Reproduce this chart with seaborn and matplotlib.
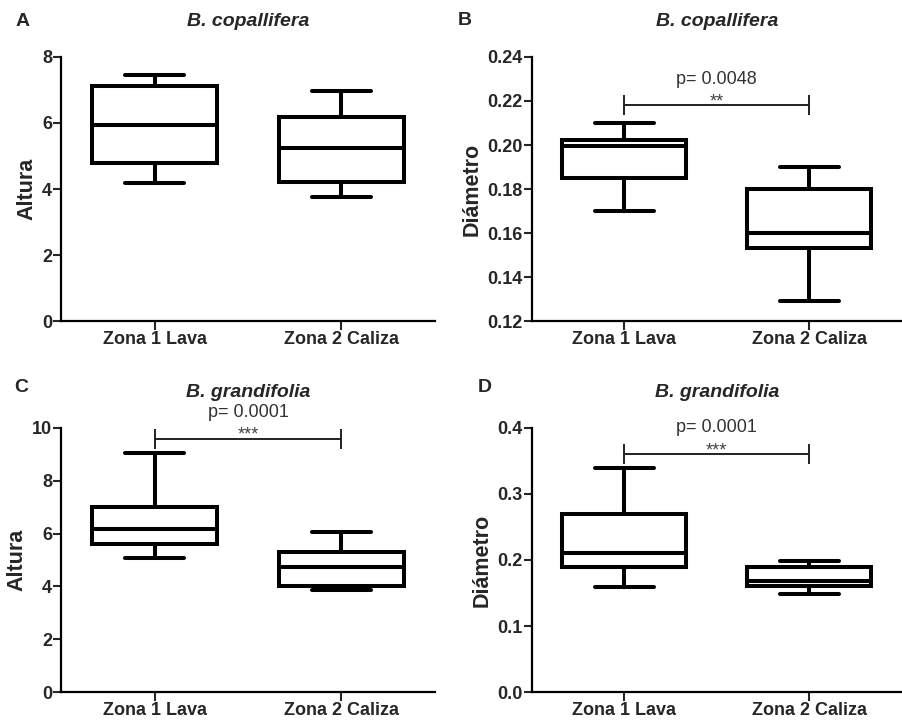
import numpy as np
import pandas as pd
import matplotlib.pyplot as plt
import seaborn as sns

zonas = ['Zona 1 Lava', 'Zona 2 Caliza']

# five-number summaries: min, Q1, median, Q3, max
cop_altura_z1 = [4.19, 4.80, 5.94, 7.13, 7.45]
cop_altura_z2 = [3.77, 4.22, 5.25, 6.19, 6.98]
cop_diam_z1 = [0.170, 0.185, 0.1995, 0.2022, 0.210]
cop_diam_z2 = [0.129, 0.153, 0.160, 0.180, 0.190]
gra_altura_z1 = [5.06, 5.62, 6.16, 7.00, 9.07]
gra_altura_z2 = [3.87, 4.00, 4.75, 5.29, 6.06]
gra_diam_z1 = [0.159, 0.190, 0.210, 0.270, 0.339]
gra_diam_z2 = [0.148, 0.160, 0.168, 0.189, 0.199]

titles = ['B. copallifera', 'B. copallifera', 'B. grandifolia', 'B. grandifolia']
ylabels = ['Altura', 'Diámetro', 'Altura', 'Diámetro']
letters = ['A', 'B', 'C', 'D']
p_texts = [None, 'p= 0.0048', 'p= 0.0001', 'p= 0.0001']
stars = [None, '**', '***', '***']
bracket_y = [None, 0.218, 9.6, 0.36]

sns.set_theme(style='ticks')
plt.rcParams['font.family'] = ['Liberation Sans', 'DejaVu Sans']
plt.rcParams['font.weight'] = 'bold'

fig = plt.figure(figsize=(9.03, 7.25), dpi=100)

rects = [[0.0676, 0.5572, 0.4141, 0.3642],
         [0.5888, 0.5572, 0.4101, 0.3642],
         [0.0676, 0.0455, 0.4141, 0.3642],
         [0.5888, 0.0455, 0.4101, 0.3642]]
letter_pos = [(0.025, 0.970), (0.515, 0.972), (0.024, 0.466), (0.537, 0.465)]
ylims = [(0, 8), (0.12, 0.24), (0, 10), (0, 0.4)]
yticks = [np.arange(0, 8.1, 2), np.arange(0.12, 0.241, 0.02),
          np.arange(0, 10.1, 2), np.arange(0, 0.41, 0.1)]
yfmt = ['{:.0f}', '{:.2f}', '{:.0f}', '{:.1f}']
data = [(cop_altura_z1, cop_altura_z2), (cop_diam_z1, cop_diam_z2),
        (gra_altura_z1, gra_altura_z2), (gra_diam_z1, gra_diam_z2)]

for i in range(4):
    z1, z2 = data[i]
    df = pd.DataFrame({'zona': [zonas[0]] * len(z1) + [zonas[1]] * len(z2),
                       'valor': z1 + z2})
    ax = fig.add_axes(rects[i])
    sns.boxplot(data=df, x='zona', y='valor', ax=ax, whis=(0, 100),
                width=0.67, color='white', linecolor='black', linewidth=2.9,
                showfliers=False, saturation=1, capwidths=0.32)
    ax.set_xlim(-0.5, 1.5)
    ax.set_ylim(*ylims[i])
    ax.set_yticks(yticks[i])
    ax.set_yticklabels([yfmt[i].format(t) for t in yticks[i]])
    ax.set_xlabel('')
    ax.set_ylabel(ylabels[i], fontsize=15.5, fontweight='bold', labelpad=3)
    ax.set_title(titles[i], fontsize=14, fontweight='bold', fontstyle='italic', pad=22)
    ax.tick_params(axis='y', length=5.5, width=1.5, pad=1, labelsize=13)
    ax.tick_params(axis='x', length=6.5, width=1.5, pad=1, labelsize=13)
    for s in ['left', 'bottom']:
        ax.spines[s].set_linewidth(1.6)
        ax.spines[s].set_color('black')
    sns.despine(ax=ax)

    if p_texts[i] is not None:
        y = bracket_y[i]
        ax.plot([0, 1], [y, y], color='#222222', lw=1.4, marker='|',
                ms=14, mew=1.4, clip_on=False)
        ax.annotate(p_texts[i], xy=(0.5, y), xytext=(0, 19), textcoords='offset points',
                    ha='center', va='center', fontsize=13, fontweight='normal',
                    color='#333333', annotation_clip=False)
        ax.annotate(stars[i], xy=(0.5, y), xytext=(0, -0.5), textcoords='offset points',
                    ha='center', va='baseline', fontsize=13, fontweight='normal',
                    color='#444444', annotation_clip=False)

    fig.text(letter_pos[i][0], letter_pos[i][1], letters[i], fontsize=14,
             fontweight='bold', ha='center', va='center')

fig.savefig('out.png', dpi=100)
